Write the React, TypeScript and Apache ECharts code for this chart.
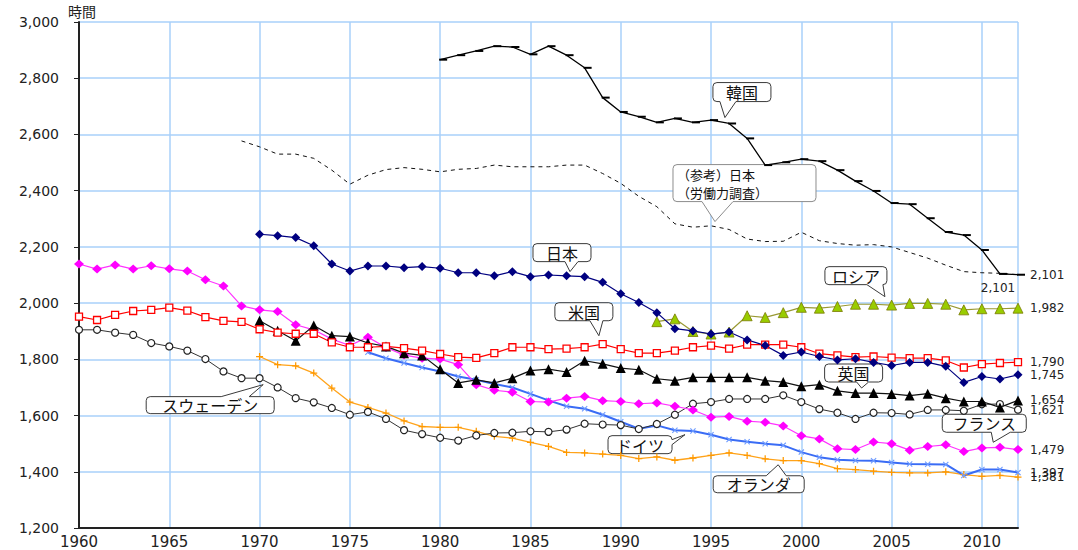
import React, { useEffect, useRef } from 'react';
import * as echarts from 'echarts';

// Annual hours actually worked per worker, by country (first year + yearly values)
const koreaStart = 1980;
const koreaHours = [2866, 2882, 2897, 2914, 2911, 2885, 2914, 2882, 2837, 2731, 2680, 2663, 2643, 2657, 2643, 2651, 2639, 2586, 2491, 2501, 2512, 2505, 2473, 2434, 2399, 2356, 2352, 2302, 2253, 2242, 2189, 2104, 2101];

const japanLfsStart = 1969;
const japanLfsHours = [2577, 2556, 2530, 2530, 2515, 2473, 2423, 2455, 2475, 2482, 2476, 2467, 2476, 2479, 2491, 2485, 2485, 2485, 2491, 2491, 2461, 2426, 2380, 2343, 2282, 2270, 2275, 2262, 2228, 2219, 2220, 2252, 2222, 2212, 2206, 2208, 2200, 2180, 2160, 2135, 2112, 2108, 2106, 2101];

const japanStart = 1970;
const japanHours = [2245, 2240, 2233, 2204, 2139, 2114, 2132, 2132, 2126, 2130, 2124, 2108, 2108, 2097, 2112, 2094, 2100, 2097, 2094, 2074, 2033, 2002, 1966, 1909, 1901, 1890, 1897, 1869, 1849, 1814, 1826, 1810, 1798, 1802, 1789, 1778, 1789, 1789, 1775, 1718, 1739, 1730, 1745];

const usStart = 1960;
const usHours = [1952, 1940, 1958, 1972, 1976, 1984, 1973, 1950, 1937, 1933, 1907, 1895, 1891, 1891, 1860, 1843, 1843, 1846, 1840, 1831, 1819, 1808, 1805, 1822, 1843, 1843, 1836, 1838, 1843, 1854, 1836, 1822, 1822, 1831, 1843, 1849, 1838, 1852, 1852, 1852, 1843, 1820, 1814, 1808, 1810, 1806, 1804, 1804, 1796, 1771, 1783, 1787, 1790];

const russiaStart = 1992;
const russiaHours = [1934, 1944, 1899, 1890, 1897, 1955, 1949, 1966, 1985, 1982, 1988, 1996, 1996, 1993, 1999, 1999, 1996, 1976, 1980, 1980, 1982];

const ukStart = 1970;
const ukHours = [1937, 1902, 1866, 1920, 1884, 1881, 1858, 1846, 1822, 1814, 1765, 1716, 1727, 1716, 1733, 1760, 1765, 1755, 1795, 1784, 1769, 1763, 1731, 1724, 1736, 1736, 1736, 1736, 1724, 1719, 1704, 1710, 1688, 1680, 1680, 1677, 1671, 1678, 1662, 1650, 1650, 1629, 1654];

const swedenStart = 1960;
const swedenHours = [1905, 1905, 1895, 1887, 1858, 1846, 1831, 1801, 1757, 1733, 1733, 1700, 1662, 1647, 1627, 1603, 1613, 1588, 1548, 1534, 1521, 1511, 1529, 1538, 1539, 1544, 1542, 1550, 1571, 1568, 1566, 1552, 1570, 1603, 1642, 1648, 1659, 1659, 1659, 1672, 1648, 1623, 1610, 1588, 1610, 1609, 1604, 1620, 1620, 1617, 1640, 1641, 1621];

const franceStart = 1960;
const franceHours = [2139, 2121, 2136, 2121, 2133, 2122, 2114, 2083, 2061, 1990, 1976, 1970, 1923, 1905, 1872, 1849, 1879, 1842, 1815, 1804, 1801, 1781, 1710, 1690, 1683, 1650, 1648, 1662, 1668, 1653, 1650, 1642, 1645, 1633, 1620, 1594, 1597, 1580, 1576, 1563, 1528, 1517, 1482, 1479, 1506, 1500, 1477, 1490, 1496, 1472, 1485, 1487, 1479];

const germanyStart = 1976;
const germanyHours = [1825, 1804, 1787, 1771, 1757, 1739, 1727, 1712, 1700, 1677, 1654, 1633, 1624, 1603, 1578, 1553, 1565, 1548, 1545, 1532, 1515, 1507, 1500, 1494, 1470, 1452, 1443, 1440, 1439, 1433, 1428, 1427, 1426, 1387, 1408, 1408, 1397];

const netherlandsStart = 1970;
const netherlandsHours = [1810, 1781, 1777, 1751, 1698, 1648, 1629, 1609, 1581, 1561, 1558, 1558, 1544, 1526, 1520, 1505, 1490, 1469, 1467, 1463, 1458, 1447, 1453, 1441, 1449, 1458, 1467, 1458, 1446, 1440, 1440, 1429, 1411, 1408, 1402, 1398, 1396, 1396, 1400, 1390, 1384, 1387, 1381];

// Axis ranges
const yearMin = 1960;
const yearMax = 2012;
const yearStep = 5;
const hoursMin = 1200;
const hoursMax = 3000;
const hoursStep = 200;

const NUM_FONT = 'DejaVu Sans';
const JP_FONT = '"Noto Sans CJK JP", "Noto Sans", sans-serif';
const TEXT = '#222';
const GRID_BLUE = '#a8d0fa';

const fmt = (v: number) => v.toLocaleString('en-US');
const toPoints = (start: number, values: number[]) => values.map((v, i) => [start + i, v]);

// Marker outlines
const plusSymbol = 'path://M4.1,0H5.9V4.1H10V5.9H5.9V10H4.1V5.9H0V4.1H4.1Z';
const crossSymbol = 'path://M0,1.3L1.3,0L5,3.7L8.7,0L10,1.3L6.3,5L10,8.7L8.7,10L5,6.3L1.3,10L0,8.7L3.7,5Z';

// Speech-bubble outline: rounded box with a pointed tail on one edge
const Callout = echarts.graphic.extendShape({
  type: 'callout',
  shape: { x: 0, y: 0, width: 0, height: 0, r: 4, side: 'bottom', b1: 0, b2: 0, tx: 0, ty: 0 },
  buildPath(ctx: any, s: any) {
    const { x, y, width: w, height: h, r, side, b1, b2, tx, ty } = s;
    const R = x + w;
    const B = y + h;
    ctx.moveTo(x + r, y);
    if (side === 'top') {
      ctx.lineTo(b1, y);
      ctx.lineTo(tx, ty);
      ctx.lineTo(b2, y);
    }
    ctx.lineTo(R - r, y);
    ctx.quadraticCurveTo(R, y, R, y + r);
    if (side === 'right') {
      ctx.lineTo(R, b1);
      ctx.lineTo(tx, ty);
      ctx.lineTo(R, b2);
    }
    ctx.lineTo(R, B - r);
    ctx.quadraticCurveTo(R, B, R - r, B);
    if (side === 'bottom') {
      ctx.lineTo(b2, B);
      ctx.lineTo(tx, ty);
      ctx.lineTo(b1, B);
    }
    ctx.lineTo(x + r, B);
    ctx.quadraticCurveTo(x, B, x, B - r);
    ctx.lineTo(x, y + r);
    ctx.quadraticCurveTo(x, y, x + r, y);
    ctx.closePath();
  },
});
echarts.graphic.registerShape('callout', Callout);

type Note = {
  lines: string[];
  at: [number, number]; // tail tip in [year, hours]
  box: [number, number, number, number]; // left, top, width, height relative to the tip (px)
  side: 'top' | 'bottom' | 'right';
  base: [number, number]; // tail base along the edge, relative to the tip (px)
  stroke?: string;
};

const notes: Note[] = [
  { lines: ['韓国'], at: [1995.77, 2660], box: [-12, -35, 58, 19], side: 'bottom', base: [-5, 11] },
  { lines: ['（参考）日本', '（労働力調査）'], at: [1995.22, 2290], box: [-42, -57, 143, 37], side: 'bottom', base: [-13, 18], stroke: '#8c8c8c' },
  { lines: ['日本'], at: [1987.19, 2112], box: [-37, -28, 58, 18], side: 'bottom', base: [-5, 8] },
  { lines: ['ロシア'], at: [2004.63, 2023], box: [-60, -30, 62, 18], side: 'bottom', base: [-18, -2] },
  { lines: ['米国'], at: [1988.79, 1884], box: [-44, -33, 58, 18], side: 'bottom', base: [-9, 4] },
  { lines: ['英国'], at: [2003.34, 1698], box: [-37, -24, 58, 18], side: 'bottom', base: [-5, 7] },
  { lines: ['スウェーデン'], at: [1970.2, 1710], box: [-117, 12, 128, 17], side: 'top', base: [-42, -14] },
  { lines: ['ドイツ'], at: [1993.56, 1532], box: [-77, 1, 64, 18], side: 'right', base: [5, 10] },
  { lines: ['オランダ'], at: [1998.72, 1425], box: [-65, 11, 91, 17], side: 'top', base: [-12, 8] },
  { lines: ['フランス'], at: [2010.63, 1505], box: [-51, -28, 84, 18], side: 'bottom', base: [-2, 17] },
];

const endLabel = () => ({
  show: true,
  formatter: (p: any) => fmt(p.value[1]),
  color: TEXT,
  fontFamily: NUM_FONT,
  fontSize: 12,
  distance: 12,
});

function buildOption() {
  const koreaLast: [number, number] = [koreaStart + koreaHours.length - 1, koreaHours[koreaHours.length - 1]];
  return {
    animation: false,
    backgroundColor: '#fff',
    grid: { left: 79, right: 60, top: 22, bottom: 22 },
    xAxis: {
      type: 'value',
      min: yearMin,
      max: yearMax,
      interval: yearStep,
      axisLine: { onZero: false, lineStyle: { color: '#222', width: 2 } },
      axisTick: { show: false },
      axisLabel: {
        formatter: (v: number) => (v % yearStep === 0 ? String(v) : ''),
        color: TEXT,
        fontFamily: NUM_FONT,
        fontSize: 15,
        margin: 6,
      },
      splitLine: { show: true, lineStyle: { color: GRID_BLUE, width: 1.5 } },
    },
    yAxis: {
      type: 'value',
      min: hoursMin,
      max: hoursMax,
      interval: hoursStep,
      name: '時間',
      nameLocation: 'end',
      nameGap: 4,
      nameTextStyle: { color: TEXT, fontFamily: JP_FONT, fontSize: 14, align: 'center', padding: [0, 0, 0, 6] },
      axisLine: { show: true, lineStyle: { color: '#222', width: 2 } },
      axisTick: { show: true, length: 5, lineStyle: { color: '#222' } },
      axisLabel: {
        formatter: (v: number) => fmt(v),
        color: TEXT,
        fontFamily: NUM_FONT,
        fontSize: 14,
        margin: 20,
      },
      splitLine: { show: true, lineStyle: { color: GRID_BLUE, width: 1.5 } },
    },
    series: [
      {
        name: 'オランダ',
        type: 'line',
        data: toPoints(netherlandsStart, netherlandsHours),
        symbol: plusSymbol,
        symbolSize: 7,
        itemStyle: { color: '#ff9900' },
        lineStyle: { color: '#ffa31a', width: 1.3 },
        endLabel: endLabel(),
      },
      {
        name: 'ドイツ',
        type: 'line',
        data: toPoints(germanyStart, germanyHours),
        symbol: crossSymbol,
        symbolSize: 6,
        itemStyle: { color: '#6f9cff' },
        lineStyle: { color: '#3a6cf5', width: 2 },
        endLabel: endLabel(),
      },
      {
        name: 'スウェーデン',
        type: 'line',
        data: toPoints(swedenStart, swedenHours),
        symbol: 'circle',
        symbolSize: 7,
        itemStyle: { color: '#fff', borderColor: '#222', borderWidth: 1.2 },
        lineStyle: { color: '#333', width: 1 },
        endLabel: endLabel(),
      },
      {
        name: 'フランス',
        type: 'line',
        data: toPoints(franceStart, franceHours),
        symbol: 'diamond',
        symbolSize: [10, 9],
        itemStyle: { color: '#ff00ff' },
        lineStyle: { color: '#ff33ff', width: 1.2 },
        endLabel: endLabel(),
      },
      {
        name: '英国',
        type: 'line',
        data: toPoints(ukStart, ukHours),
        symbol: 'triangle',
        symbolSize: 10,
        itemStyle: { color: '#000' },
        lineStyle: { color: '#111', width: 1.2 },
        endLabel: endLabel(),
      },
      {
        name: '米国',
        type: 'line',
        data: toPoints(usStart, usHours),
        symbol: 'rect',
        symbolSize: 7,
        itemStyle: { color: '#fff', borderColor: '#ff0000', borderWidth: 1.3 },
        lineStyle: { color: '#ff0000', width: 1.2 },
        endLabel: endLabel(),
      },
      {
        name: 'ロシア',
        type: 'line',
        data: toPoints(russiaStart, russiaHours),
        symbol: 'triangle',
        symbolSize: 10,
        itemStyle: { color: '#99cc00', borderColor: '#7a7a00', borderWidth: 0.8 },
        lineStyle: { color: '#999933', width: 1.2 },
        endLabel: endLabel(),
      },
      {
        name: '日本',
        type: 'line',
        data: toPoints(japanStart, japanHours),
        symbol: 'diamond',
        symbolSize: 9,
        itemStyle: { color: '#000080' },
        lineStyle: { color: '#000080', width: 1.2 },
        endLabel: endLabel(),
      },
      {
        name: '（参考）日本（労働力調査）',
        type: 'line',
        data: toPoints(japanLfsStart, japanLfsHours),
        symbol: 'none',
        lineStyle: { color: '#111', width: 1, type: [4, 4] },
        endLabel: endLabel(),
      },
      {
        name: '韓国',
        type: 'line',
        data: toPoints(koreaStart, koreaHours),
        symbol: 'rect',
        symbolSize: [8, 2],
        symbolOffset: [3, 0],
        itemStyle: { color: '#000' },
        lineStyle: { color: '#000', width: 1.3 },
        markPoint: {
          symbol: 'circle',
          symbolSize: 0,
          silent: true,
          data: [{ coord: koreaLast, value: koreaLast[1] }],
          label: {
            show: true,
            position: 'bottom',
            distance: 7,
            offset: [-20, 0],
            formatter: (p: any) => fmt(p.value),
            color: TEXT,
            fontFamily: NUM_FONT,
            fontSize: 12,
          },
        },
      },
    ],
  };
}

function buildNotes(chart: echarts.ECharts) {
  const elements: any[] = [];
  notes.forEach((n) => {
    const [tx, ty] = chart.convertToPixel({ gridIndex: 0 }, n.at) as number[];
    const [bl, bt, bw, bh] = n.box;
    const x = tx + bl;
    const y = ty + bt;
    const onX = n.side !== 'right';
    const children: any[] = [
      {
        type: 'callout',
        shape: {
          x,
          y,
          width: bw,
          height: bh,
          r: 4,
          side: n.side,
          b1: (onX ? tx : ty) + n.base[0],
          b2: (onX ? tx : ty) + n.base[1],
          tx,
          ty,
        },
        style: { fill: '#fff', stroke: n.stroke || '#3a3a3a', lineWidth: 1 },
      },
    ];
    if (n.lines.length === 1) {
      children.push({
        type: 'text',
        x: x + bw / 2,
        y: y + bh / 2,
        style: {
          text: n.lines[0],
          fill: '#111',
          fontFamily: JP_FONT,
          fontSize: 16,
          align: 'center',
          verticalAlign: 'middle',
        },
      });
    } else {
      n.lines.forEach((line, i) => {
        children.push({
          type: 'text',
          x: x + 4,
          y: y + 9.5 + i * 18,
          style: {
            text: line,
            fill: '#111',
            fontFamily: JP_FONT,
            fontSize: 13,
            align: 'left',
            verticalAlign: 'middle',
          },
        });
      });
    }
    elements.push({ type: 'group', z: 50, children });
  });
  return elements;
}

export default function App() {
  const ref = useRef<HTMLDivElement>(null);
  useEffect(() => {
    const el = ref.current;
    if (!el) return;
    const chart = echarts.init(el, undefined, { renderer: 'svg' });
    chart.setOption(buildOption() as any);
    chart.setOption({ graphic: buildNotes(chart) } as any);
    return () => chart.dispose();
  }, []);
  return (
    <div
      ref={ref}
      style={{ position: 'fixed', left: 0, top: 0, width: 1078, height: 550, background: '#fff' }}
    />
  );
}
